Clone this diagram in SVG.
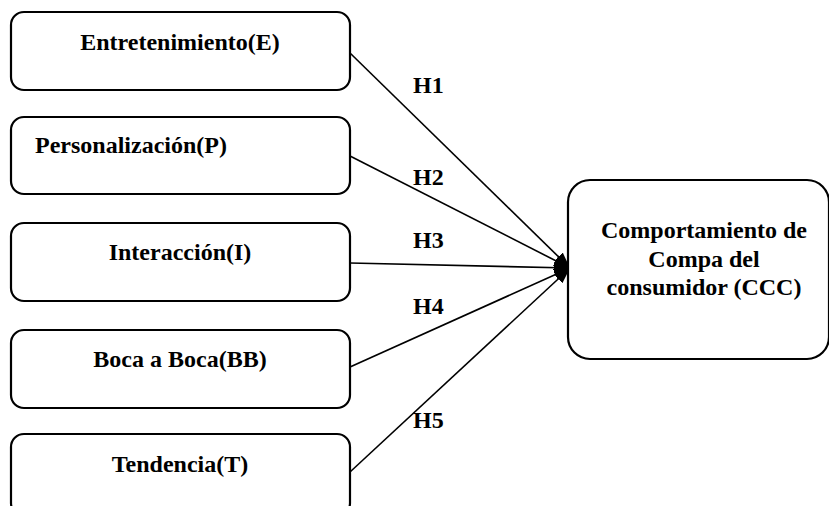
<svg xmlns="http://www.w3.org/2000/svg" width="829" height="506" viewBox="0 0 829 506">
<defs>
<style>
.box{fill:#fff;stroke:#000;stroke-width:2.2}
.t{font-family:'Liberation Serif','Times New Roman','DejaVu Serif',serif;font-weight:bold;font-size:24px;fill:#000}
.c{stroke:#000;stroke-width:1.6;fill:none}
</style>
<marker id="ah" viewBox="0 0 16 12" refX="16" refY="6" markerWidth="16" markerHeight="12" markerUnits="userSpaceOnUse" orient="auto">
<path d="M0,0 L16,6 L0,12 z" fill="#000"/>
</marker>
</defs>
<rect width="829" height="506" fill="#fff"/>
<g id="connectors">
<line class="c" x1="350" y1="53" x2="570" y2="268" marker-end="url(#ah)"/>
<line class="c" x1="350" y1="156" x2="570" y2="268" marker-end="url(#ah)"/>
<line class="c" x1="350" y1="263" x2="570" y2="268" marker-end="url(#ah)"/>
<line class="c" x1="350" y1="367" x2="570" y2="268" marker-end="url(#ah)"/>
<line class="c" x1="350" y1="472" x2="570" y2="268" marker-end="url(#ah)"/>
<text class="t" x="413" y="93">H1</text>
<text class="t" x="413" y="185">H2</text>
<text class="t" x="413" y="248">H3</text>
<text class="t" x="413" y="314">H4</text>
<text class="t" x="413" y="428">H5</text>
</g>
<g id="E">
<rect class="box" x="11" y="12" width="339" height="78" rx="13"/>
<text class="t" x="180" y="50" text-anchor="middle">Entretenimiento(E)</text>
</g>
<g id="P">
<rect class="box" x="11" y="117" width="339" height="77" rx="13"/>
<text class="t" x="35" y="153">Personalización(P)</text>
</g>
<g id="I">
<rect class="box" x="11" y="223" width="339" height="78" rx="13"/>
<text class="t" x="180" y="260" text-anchor="middle">Interacción(I)</text>
</g>
<g id="BB">
<rect class="box" x="11" y="330" width="339" height="78" rx="13"/>
<text class="t" x="180" y="367" text-anchor="middle">Boca a Boca(BB)</text>
</g>
<g id="T">
<rect class="box" x="11" y="434" width="339" height="82" rx="13"/>
<text class="t" x="180" y="472" text-anchor="middle">Tendencia(T)</text>
</g>
<g id="CCC">
<rect class="box" x="568" y="180" width="261" height="179" rx="22"/>
<text class="t" x="704" y="238" text-anchor="middle">Comportamiento de</text>
<text class="t" x="704" y="267" text-anchor="middle">Compa del</text>
<text class="t" x="704" y="295" text-anchor="middle">consumidor (CCC)</text>
</g>
</svg>
